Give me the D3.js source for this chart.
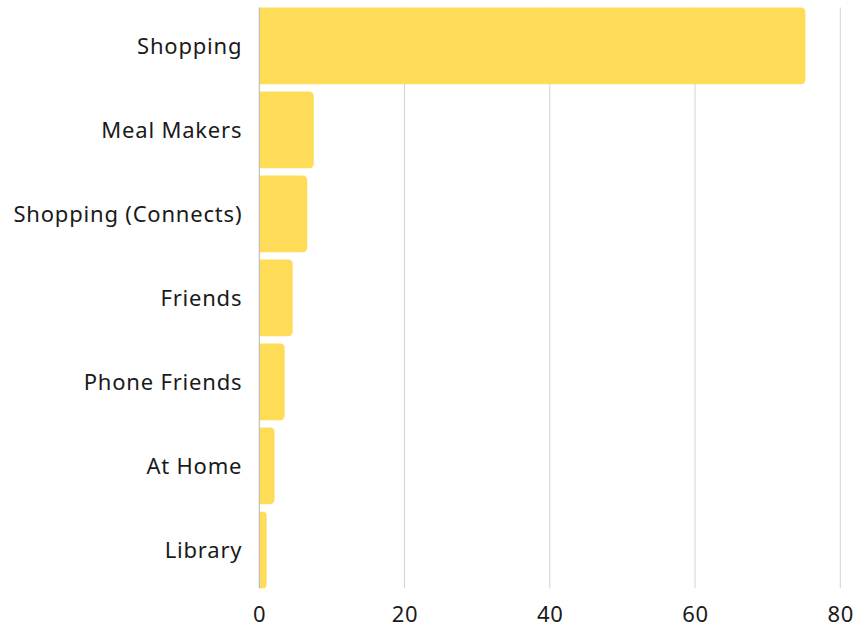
<!DOCTYPE html>
<html>
<head>
<meta charset="utf-8">
<script src="https://cdn.jsdelivr.net/npm/d3@7"></script>
<style>
  html, body { margin: 0; padding: 0; background: #ffffff; }
  svg text { font-family: "Noto Sans", "Open Sans", sans-serif; fill: #1a1a1a; }
</style>
</head>
<body>
<svg id="chart" width="860" height="628"></svg>
<script>
// Categories and their values (percent share)
const categories = ["Shopping", "Meal Makers", "Shopping (Connects)", "Friends", "Phone Friends", "At Home", "Library"];
const values = [75.2, 7.5, 6.6, 4.6, 3.5, 2.1, 1.0];
const tickValues = [0, 20, 40, 60, 80];

const svg = d3.select("#chart");
const margin = { left: 259.3, top: 3.8 };

const x = d3.scaleLinear().domain([0, 80]).range([margin.left, 840.3]);
const y = d3.scaleBand().domain(categories).range([margin.top, 592]).paddingInner(0.087).paddingOuter(0.0435);

const gridTop = y(categories[0]);
const gridBottom = y(categories[categories.length - 1]) + y.bandwidth();

// Vertical gridlines
svg.append("g").selectAll("line")
  .data(tickValues.slice(1))
  .join("line")
  .attr("x1", d => x(d)).attr("x2", d => x(d))
  .attr("y1", gridTop).attr("y2", gridBottom)
  .attr("stroke", "#d3d3d3").attr("stroke-width", 1);

// Bars with rounded right-hand ends
const r = 5;
function barPath(d, i) {
  const x0 = x(0), x1 = x(d), y0 = y(categories[i]), h = y.bandwidth();
  const rr = Math.min(r, (x1 - x0) / 2);
  return `M${x0},${y0}H${x1 - rr}Q${x1},${y0} ${x1},${y0 + rr}V${y0 + h - rr}Q${x1},${y0 + h} ${x1 - rr},${y0 + h}H${x0}Z`;
}
svg.append("g").selectAll("path")
  .data(values)
  .join("path")
  .attr("d", (d, i) => barPath(d, i))
  .attr("fill", "#FEDC58");

// Baseline
svg.append("line")
  .attr("x1", x(0)).attr("x2", x(0))
  .attr("y1", gridTop).attr("y2", gridBottom)
  .attr("stroke", "#b5b5b5").attr("stroke-width", 1);

// Category labels
svg.append("g").selectAll("text")
  .data(categories)
  .join("text")
  .attr("x", x(0) - 17)
  .attr("y", d => y(d) + y.bandwidth() / 2)
  .attr("dy", "0.36em")
  .attr("text-anchor", "end")
  .attr("font-size", 22)
  .attr("letter-spacing", "0.8px")
  .text(d => d);

// X-axis tick labels
const xAxis = d3.axisBottom(x).tickValues(tickValues).tickSize(0).tickPadding(0);
const gx = svg.append("g").attr("transform", `translate(0, ${gridBottom + 18})`).call(xAxis);
gx.select(".domain").remove();
gx.selectAll("text")
  .attr("font-size", 22)
  .attr("letter-spacing", "0.8px")
  .attr("font-family", "Noto Sans, Open Sans, sans-serif")
  .attr("fill", "#1a1a1a");
</script>
</body>
</html>
